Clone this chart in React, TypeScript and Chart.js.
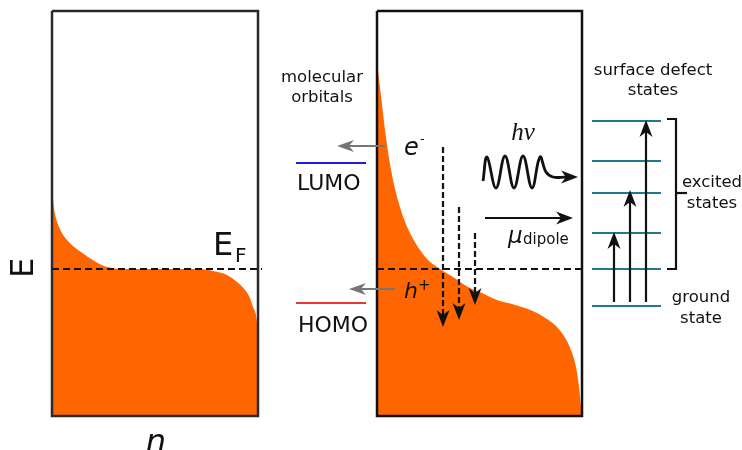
import React, { useEffect, useRef } from "react";
import { Chart, registerables } from "chart.js";

Chart.register(...registerables);

// ---------- colours ----------
const ORANGE = "#ff6600";
const INK = "#111111";
const GRAY = "#767676";
const TEAL = "#1f7a8c";
const BLUE = "#1e1ee0";
const RED = "#ee3535";

// ---------- data (diagram coordinates: n → x, E → y, E axis downward) ----------
// left panel: density of states filled below Fermi level
const leftN = [53, 53.6, 54.8, 56.5, 59, 62.5, 67, 73, 81, 88, 96, 104, 112, 122, 200, 213, 227, 237, 245, 250, 253, 256, 257.5];
const leftE = [197, 205, 213, 220, 227, 234, 240, 246, 252, 257, 262, 266, 268, 269, 269, 271, 275, 282, 290, 298, 307, 315, 327];

// middle panel: density of states of the nanocrystal
const midN = [378, 379.7, 381.5, 383.2, 385, 387, 389.3, 392, 395.3, 399.3, 404.3, 411, 420, 428, 440, 453, 468, 482, 497, 512, 525, 537, 547, 556, 564, 571, 576, 579, 581, 582];
const midE = [70, 85, 100, 115, 130, 145, 160, 175, 190, 205, 220, 235, 250, 260, 269, 277, 287, 293, 300, 304, 308, 313, 319, 326, 336, 350, 367, 387, 407, 416];

const panelLeftN = [52, 258];
const panelMidN = [377, 582];
const panelE = [11, 416];
const fermiE = 269;

// molecular orbitals
const lumoE = 163;
const homoE = 303;
const orbitalN = [296, 366];

// surface defect states
const defectLevelsE = [121, 161, 193, 233, 269, 306];
const defectN = [592, 661];
const excitationN = [614, 630, 646];
const excitationTopE = [232, 190, 120];
const excitationBaseE = 302;

// relaxation (dashed) arrows
const relaxN = [443, 459, 475];
const relaxStartE = [147, 207, 233];
const relaxEndE = [327, 320, 305];

// photon wave (hand-read turning points)
const waveN = [483, 487, 496, 505, 514, 523, 532, 540, 546, 553, 566];
const waveE = [181, 157, 188, 156, 188, 156, 188, 157, 172, 177, 177];
const waveTip = { x: 578, y: 177 };

// dipole arrow
const dipoleN = [485, 573];
const dipoleE = 218;

// charge arrows to molecular orbitals
const electronArrow = { from: 385, to: 337, e: 146 };
const holeArrow = { from: 395, to: 349, e: 289 };

// bracket around excited states
const bracket = { n: 676, n0: 667, top: 119, bottom: 269, mid: 193, midEnd: 687 };

type Lbl = {
  t: string;
  x: number;
  y: number;
  size: number;
  align?: CanvasTextAlign;
  style?: string;
  family?: string;
  rot?: number;
  base?: CanvasTextBaseline;
};

const SANS = "'DejaVu Sans', sans-serif";
const SERIF = "'Liberation Serif', 'DejaVu Serif', serif";

const labels: Lbl[] = [
  { t: "E", x: 25, y: 268, size: 32, align: "center", rot: -Math.PI / 2, base: "middle" },
  { t: "n", x: 156, y: 452, size: 32, align: "center", style: "italic" },
  { t: "E", x: 213, y: 255, size: 32, align: "left" },
  { t: "F", x: 235, y: 262, size: 20, align: "left" },
  { t: "molecular", x: 322, y: 82, size: 16.5, align: "center" },
  { t: "orbitals", x: 322, y: 102, size: 16.5, align: "center" },
  { t: "LUMO", x: 297, y: 190, size: 22, align: "left" },
  { t: "HOMO", x: 298, y: 332, size: 22, align: "left" },
  { t: "e", x: 404, y: 155, size: 24, align: "left", style: "italic" },
  { t: "-", x: 420, y: 143, size: 13, align: "left" },
  { t: "h", x: 404, y: 298, size: 22, align: "left", style: "italic" },
  { t: "+", x: 418, y: 290, size: 15, align: "left" },
  { t: "hν", x: 523, y: 140, size: 25, align: "center", style: "italic", family: SERIF },
  { t: "μ", x: 508, y: 243, size: 23, align: "left", style: "italic" },
  { t: "dipole", x: 523, y: 244, size: 15, align: "left" },
  { t: "surface defect", x: 653, y: 75, size: 16.5, align: "center" },
  { t: "states", x: 653, y: 95, size: 16.5, align: "center" },
  { t: "excited", x: 712, y: 187, size: 16.5, align: "center" },
  { t: "states", x: 712, y: 208, size: 16.5, align: "center" },
  { t: "ground", x: 701, y: 302, size: 16.5, align: "center" },
  { t: "state", x: 701, y: 323, size: 16.5, align: "center" },
];

const pts = (xs: number[], ys: number[]) => xs.map((x, i) => ({ x, y: ys[i] }));
const seg = (x1: number, y1: number, x2: number, y2: number) => [
  { x: x1, y: y1 },
  { x: x2, y: y2 },
];
const rect = (n: number[], e: number[]) => [
  { x: n[0], y: e[0] },
  { x: n[1], y: e[0] },
  { x: n[1], y: e[1] },
  { x: n[0], y: e[1] },
  { x: n[0], y: e[0] },
];

function lineDs(data: any[], color: string, width = 2, dash: number[] = [], order = 1, extra: any = {}) {
  return {
    data,
    showLine: true,
    borderColor: color,
    borderWidth: width,
    borderDash: dash,
    pointRadius: 0,
    fill: false,
    tension: 0,
    borderJoinStyle: "miter",
    borderCapStyle: "butt",
    order,
    ...extra,
  };
}

const headPlugin = {
  id: "heads",
  afterDatasetsDraw(chart: any) {
    const { ctx, scales } = chart;
    const X = (v: number) => scales.x.getPixelForValue(v);
    const Y = (v: number) => scales.y.getPixelForValue(v);

    const head = (tx: number, ty: number, dx: number, dy: number, color: string, len = 14, hw = 5.5) => {
      const px = X(tx);
      const py = Y(ty);
      const nx = -dy;
      const ny = dx;
      ctx.save();
      ctx.fillStyle = color;
      ctx.beginPath();
      ctx.moveTo(px, py);
      ctx.lineTo(px - dx * len + nx * hw, py - dy * len + ny * hw);
      ctx.lineTo(px - dx * len * 0.7, py - dy * len * 0.7);
      ctx.lineTo(px - dx * len - nx * hw, py - dy * len - ny * hw);
      ctx.closePath();
      ctx.fill();
      ctx.restore();
    };

    // gray arrows (leftwards)
    head(electronArrow.to, electronArrow.e, -1, 0, GRAY, 17, 6);
    head(holeArrow.to, holeArrow.e, -1, 0, GRAY, 17, 6);
    // relaxation arrows (downwards)
    relaxN.forEach((n, i) => head(n, relaxEndE[i], 0, 1, INK, 17, 6.5));
    // excitation arrows (upwards)
    excitationN.forEach((n, i) => head(n, excitationTopE[i], 0, -1, INK, 17, 6.5));
    // photon and dipole arrows (rightwards)
    head(waveTip.x, waveTip.y, 1, 0, INK, 17, 6.5);
    head(dipoleN[1], dipoleE, 1, 0, INK, 17, 6.5);

    // labels
    labels.forEach((l) => {
      ctx.save();
      ctx.fillStyle = INK;
      ctx.font = `${l.style || "normal"} ${l.size}px ${l.family || SANS}`;
      ctx.textAlign = l.align || "left";
      ctx.textBaseline = l.base || "alphabetic";
      ctx.translate(X(l.x), Y(l.y));
      if (l.rot) ctx.rotate(l.rot);
      ctx.fillText(l.t, 0, 0);
      ctx.restore();
    });
  },
};

export default function App() {
  const ref = useRef<HTMLCanvasElement | null>(null);

  useEffect(() => {
    document.body.style.margin = "0";
    const canvas = ref.current;
    if (!canvas) return;

    const datasets: any[] = [];

    // filled DOS areas
    const fillDs = (xs: number[], ys: number[]) => ({
      data: pts(xs, ys),
      showLine: true,
      borderWidth: 0,
      borderColor: ORANGE,
      backgroundColor: ORANGE,
      pointRadius: 0,
      fill: { value: panelE[1] },
      cubicInterpolationMode: "monotone",
      order: 20,
    });
    datasets.push(fillDs(leftN, leftE));
    datasets.push(fillDs(midN, midE));

    // panel frames
    datasets.push(lineDs(rect(panelLeftN, panelE), "#2a2a2a", 2.5, [], 2));
    datasets.push(lineDs(rect(panelMidN, panelE), INK, 2.5, [], 2));

    // Fermi levels
    datasets.push(lineDs(seg(panelLeftN[0], fermiE, 262, fermiE), INK, 2, [7, 4], 1));
    datasets.push(lineDs(seg(panelMidN[0], fermiE, 586, fermiE), INK, 2, [7, 4], 1));

    // molecular orbitals
    datasets.push(lineDs(seg(orbitalN[0], lumoE, orbitalN[1], lumoE), BLUE, 2.2, [], 1));
    datasets.push(lineDs(seg(orbitalN[0], homoE, orbitalN[1], homoE), RED, 2.2, [], 1));

    // gray charge arrows
    datasets.push(lineDs(seg(electronArrow.from, electronArrow.e, electronArrow.to + 10, electronArrow.e), GRAY, 2.2, [], 1));
    datasets.push(lineDs(seg(holeArrow.from, holeArrow.e, holeArrow.to + 10, holeArrow.e), GRAY, 2.2, [], 1));

    // relaxation dashed arrows
    relaxN.forEach((n, i) => {
      datasets.push(lineDs(seg(n, relaxStartE[i], n, relaxEndE[i] - 10), INK, 2.2, [6, 3], 1));
    });

    // photon wave and dipole arrow
    datasets.push(lineDs(pts(waveN, waveE).concat([{ x: waveTip.x - 10, y: waveTip.y }]), INK, 2.8, [], 1, { tension: 0.4 }));
    datasets.push(lineDs(seg(dipoleN[0], dipoleE, dipoleN[1] - 10, dipoleE), INK, 2.2, [], 1));

    // defect levels
    defectLevelsE.forEach((e) => {
      datasets.push(lineDs(seg(defectN[0], e, defectN[1], e), TEAL, 2.2, [], 3));
    });

    // excitation arrows
    excitationN.forEach((n, i) => {
      datasets.push(lineDs(seg(n, excitationBaseE, n, excitationTopE[i] + 10), INK, 2.2, [], 1));
    });

    // bracket
    datasets.push(
      lineDs(
        [
          { x: bracket.n0, y: bracket.top },
          { x: bracket.n, y: bracket.top },
          { x: bracket.n, y: bracket.bottom },
          { x: bracket.n0, y: bracket.bottom },
        ],
        INK,
        2.2,
        [],
        1
      )
    );
    datasets.push(lineDs(seg(bracket.n, bracket.mid, bracket.midEnd, bracket.mid), INK, 2.2, [], 1));

    const chart = new Chart(canvas, {
      type: "scatter",
      data: { datasets },
      options: {
        animation: false,
        responsive: false,
        maintainAspectRatio: false,
        layout: { padding: 0 },
        events: [],
        plugins: { legend: { display: false }, tooltip: { enabled: false }, title: { display: false } },
        scales: {
          x: { type: "linear", min: 0, max: 742, display: false },
          y: { type: "linear", min: 0, max: 450, reverse: true, display: false },
        },
      },
      plugins: [headPlugin],
    } as any);

    return () => chart.destroy();
  }, []);

  return (
    <div style={{ width: 742, height: 450, background: "#ffffff" }}>
      <canvas ref={ref} width={742} height={450} />
    </div>
  );
}
